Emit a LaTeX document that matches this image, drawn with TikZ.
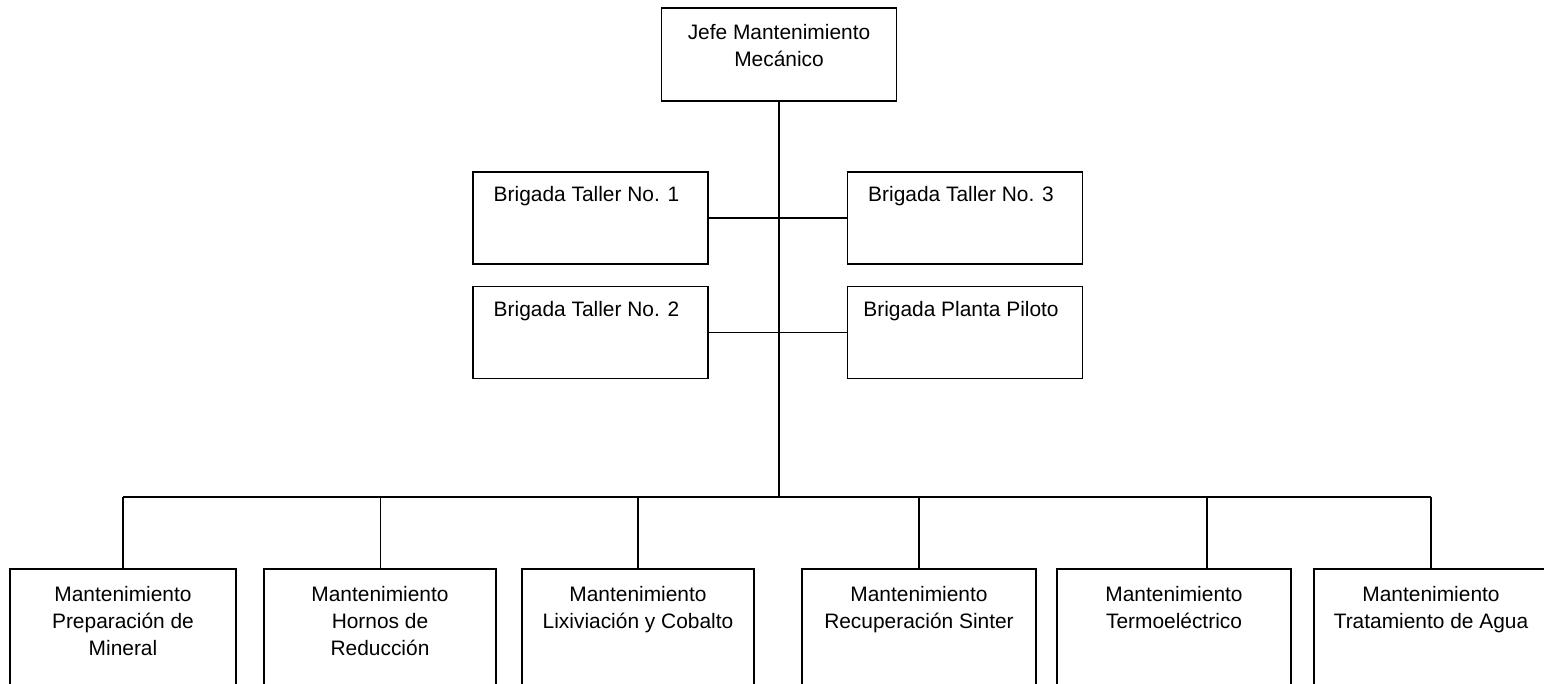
\documentclass[tikz,border=0pt]{standalone}
\usepackage{fontspec}
\setmainfont{Liberation Sans}
\usepackage{tikz}
\usetikzlibrary{calc,positioning}

\begin{document}
\begin{tikzpicture}[
  box/.style={draw,line width=1pt,rectangle,inner sep=0pt},
  txt/.style={anchor=north,inner sep=0pt,align=center,
              font=\fontsize{11.9}{15.3}\selectfont},
  wire/.style={line width=1pt}
]
\useasboundingbox (0,0) rectangle (30.88,-13.68);
\clip (0,0) rectangle (30.88,-13.68);
% head
\node[box,minimum width=4.70cm,minimum height=1.86cm] (jefe) at (15.58,-1.09) {};
\node[txt] (jefetxt) at ($(jefe.north)+(0,-.34)$) {Jefe Mantenimiento\\Mecánico};
% brigadas
\foreach \n/\x/\y/\txt in {b1/11.81/-4.36/{Brigada Taller No. 1},
                            b3/19.30/-4.36/{Brigada Taller No. 3},
                            b2/11.81/-6.65/{Brigada Taller No. 2},
                            bp/19.30/-6.65/{Brigada Planta Piloto}}{
  \node[box,minimum width=4.70cm,minimum height=1.84cm] (\n) at (\x,\y) {};
  \node[txt] (\n txt) at ($(\n.north)+(-.08,-.30)$) {\txt};
}
\coordinate (hub) at (15.58,-9.94);
\draw[wire] (jefe.south) -- (jefe.south |- hub);
\draw[wire] (b1.east) -- (b3.west);
\draw[wire] (b2.east) -- (bp.west);
% mantenimiento
\foreach \i/\x/\w/\txt in {1/2.46/4.52/{Mantenimiento\\Preparación de\\Mineral},
                           2/7.60/4.64/{Mantenimiento\\Hornos de\\Reducción},
                           3/12.76/4.64/{Mantenimiento\\Lixiviación y Cobalto},
                           4/18.38/4.68/{Mantenimiento\\Recuperación Sinter},
                           5/23.48/4.68/{Mantenimiento\\Termoeléctrico},
                           6/28.62/4.68/{Mantenimiento\\Tratamiento de Agua}}{
  \node[box,minimum width=\w cm,minimum height=3cm,anchor=north] (m\i) at (\x,-11.36) {};
  \node[txt] (m\i txt) at ($(m\i.north)+(0,-.36)$) {\txt};
}
\foreach \i/\d in {1/2.46,2/7.61,3/12.76,4/18.38,5/24.14,6/28.62}{
  \coordinate (drop\i) at (\d,-9.94);
  \draw[wire] (drop\i) -- (drop\i |- m\i.north);
}
\draw[wire] (drop1) -- (drop6);
\end{tikzpicture}
\end{document}
